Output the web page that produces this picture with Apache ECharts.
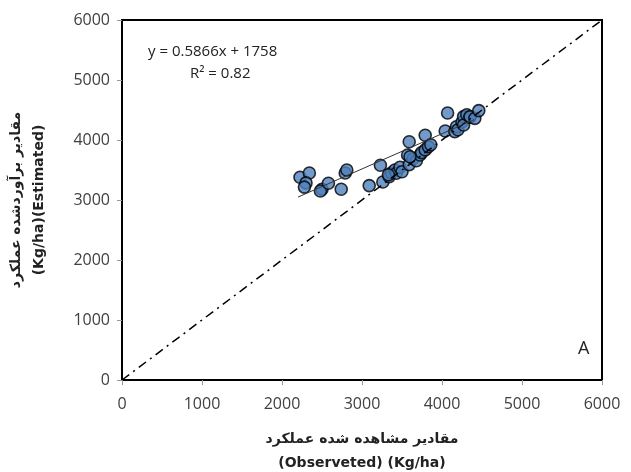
<!DOCTYPE html>
<html>
<head>
<meta charset="utf-8">
<script src="https://cdn.jsdelivr.net/npm/echarts@6/dist/echarts.min.js"></script>
<style>
html,body{margin:0;padding:0;background:#fff;}
#main{width:631px;height:472px;}
</style>
</head>
<body>
<div id="main"></div>
<script>
// observed vs estimated yield (Kg/ha)
var observed=[2225,2342,2300,2280,2500,2480,2580,2790,2810,2740,
    3090,3230,3260,3340,3370,3410,3430,3475,3500,3570,
    3590,3590,3640,3680,3725,3745,3790,3830,3790,3330,
    3600,4040,4070,4160,4180,4200,4250,4270,4270,4310,
    4350,4350,4410,4460,3860];
var estimated=[3380,3450,3285,3215,3180,3150,3280,3450,3500,3180,
    3240,3580,3300,3390,3455,3500,3445,3545,3470,3750,
    3970,3590,3690,3655,3750,3790,3835,3890,4080,3420,
    3720,4150,4450,4140,4220,4170,4300,4390,4250,4420,
    4380,4390,4360,4490,3920];
var axisTicks=[0,1000,2000,3000,4000,5000,6000];
var fitSlope=0.5866, fitIntercept=1758;
var fitRange=[2200,4400];
var eqText='y = 0.5866x + 1758';
var r2Text='R² = 0.82';

var points=[];
for(var i=0;i<observed.length;i++){
    points.push([observed[i],estimated[i]]);
}
var fitLine=[
    [fitRange[0],fitSlope*fitRange[0]+fitIntercept],
    [fitRange[1],fitSlope*fitRange[1]+fitIntercept]
];
var oneToOne=[[axisTicks[0],axisTicks[0]],[axisTicks[6],axisTicks[6]]];

var chart=echarts.init(document.getElementById('main'));
var labelFont={fontFamily:'Open Sans',fontSize:16,color:'#404040'};
function plain(v){ return String(v); }

chart.setOption({
    animation:false,
    grid:{left:122,right:29,top:20,bottom:92,containLabel:false,outerBoundsMode:'none',
        show:true,borderColor:'#000',borderWidth:2},
    xAxis:{
        type:'value',min:0,max:6000,interval:1000,
        axisLine:{show:true,lineStyle:{color:'#000',width:2}},
        axisTick:{show:true,length:5,lineStyle:{color:'#999'}},
        splitLine:{show:false},
        axisLabel:{margin:16,formatter:plain,fontFamily:labelFont.fontFamily,fontSize:labelFont.fontSize,color:labelFont.color},
        name:'مقادیر مشاهده شده عملکرد\n(Observeted) (Kg/ha)',
        nameLocation:'middle',nameGap:47,
        nameTextStyle:{fontFamily:'DejaVu Sans',fontWeight:'bold',fontSize:14,color:'#222',lineHeight:24}
    },
    yAxis:{
        type:'value',min:0,max:6000,interval:1000,
        axisLine:{show:true,lineStyle:{color:'#000',width:2}},
        axisTick:{show:true,length:5,lineStyle:{color:'#999'}},
        splitLine:{show:false},
        axisLabel:{margin:12,formatter:plain,fontFamily:labelFont.fontFamily,fontSize:labelFont.fontSize,color:labelFont.color},
        name:'مقادیر برآوردشده عملکرد\n(Kg/ha)(Estimated)',
        nameLocation:'middle',nameGap:71,nameRotate:90,
        nameTextStyle:{fontFamily:'DejaVu Sans',fontWeight:'bold',fontSize:14,color:'#222',lineHeight:23}
    },
    series:[
        {
            type:'line',data:oneToOne,symbol:'none',silent:true,
            lineStyle:{color:'#000',width:1.5,type:[9,5,2,5]}
        },
        {
            type:'line',data:fitLine,symbol:'none',silent:true,
            lineStyle:{color:'#333',width:1}
        },
        {
            type:'scatter',data:points,symbol:'circle',symbolSize:12,
            itemStyle:{color:'#4F81BD',borderColor:'#000',borderWidth:1.6}
        }
    ],
    graphic:[
        {type:'text',left:148,top:44,style:{text:eqText,fontFamily:'Open Sans',fontSize:15,fill:'#222'}},
        {type:'text',left:190,top:66,style:{text:r2Text,fontFamily:'Open Sans',fontSize:15,fill:'#222'}},
        {type:'text',left:578,top:340,style:{text:'A',fontFamily:'Open Sans',fontSize:18,fill:'#222'}}
    ]
});
</script>
</body>
</html>
